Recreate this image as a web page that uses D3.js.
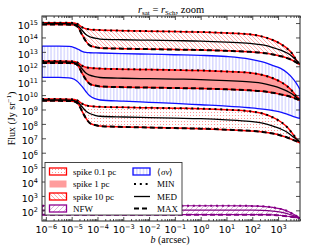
<!DOCTYPE html>
<html>
<head>
<meta charset="utf-8">
<script src="https://cdn.jsdelivr.net/npm/d3@7"></script>
<style>
body{margin:0;background:#fff;}
svg{display:block;}
</style>
</head>
<body>
<script>
(function(){

//log10 of impact parameter b (arcsec), shared by every curve
var logB = [-6.15, -5.5, -5.1, -4.9, -4.75, -4.6, -4.45, -4.3, -4.1, -3.9, -3, -2, -1, 0, 1, 1.9, 2.4, 2.8, 3.1, 3.35, 3.55, 3.7, 3.8, 3.85];

//log10 flux (Jy/sr)
var spike10Min = [15.03, 15.03, 15.02, 15.0, 14.9, 14.72, 14.6, 14.56, 14.53, 14.51, 14.47, 14.44, 14.41, 14.38, 14.31, 14.22, 14.06, 13.82, 13.55, 13.24, 12.87, 12.45, 12.2, 12.1];
var spike10Med = [14.97, 14.97, 14.96, 14.93, 14.8, 14.5, 14.2, 14.05, 13.95, 13.89, 13.84, 13.81, 13.78, 13.75, 13.68, 13.59, 13.48, 13.3, 13.12, 12.92, 12.68, 12.42, 12.25, 12.15];
var spike10Max = [14.9, 14.9, 14.89, 14.87, 14.7, 14.2, 13.75, 13.45, 13.33, 13.27, 13.22, 13.19, 13.16, 13.13, 13.07, 13.0, 12.93, 12.82, 12.7, 12.57, 12.42, 12.27, 12.15, 12.1];

var spike1Min = [12.36, 12.36, 12.35, 12.33, 12.23, 12.05, 11.93, 11.89, 11.86, 11.84, 11.8, 11.77, 11.74, 11.71, 11.64, 11.55, 11.4, 11.17, 10.92, 10.62, 10.28, 9.95, 9.78, 9.7];
var spike1Med = [12.3, 12.3, 12.29, 12.26, 12.13, 11.83, 11.53, 11.38, 11.28, 11.22, 11.17, 11.14, 11.11, 11.08, 11.01, 10.92, 10.82, 10.64, 10.47, 10.28, 10.07, 9.85, 9.72, 9.65];
var spike1Max = [12.23, 12.23, 12.22, 12.2, 12.03, 11.53, 11.08, 10.78, 10.66, 10.6, 10.55, 10.52, 10.49, 10.46, 10.4, 10.33, 10.26, 10.16, 10.05, 9.95, 9.84, 9.74, 9.66, 9.62];

var spike01Min = [9.72, 9.72, 9.71, 9.69, 9.59, 9.41, 9.29, 9.24, 9.21, 9.19, 9.15, 9.12, 9.09, 9.06, 8.99, 8.88, 8.72, 8.45, 8.15, 7.78, 7.35, 7.0, 6.8, 6.72];
var spike01Med = [9.66, 9.66, 9.65, 9.62, 9.49, 9.19, 8.89, 8.72, 8.6, 8.53, 8.48, 8.44, 8.4, 8.36, 8.28, 8.17, 8.05, 7.85, 7.65, 7.42, 7.15, 6.95, 6.8, 6.74];
var spike01Max = [9.6, 9.6, 9.59, 9.56, 9.39, 8.89, 8.4, 8.06, 7.92, 7.85, 7.79, 7.75, 7.71, 7.67, 7.6, 7.52, 7.44, 7.33, 7.2, 7.06, 6.92, 6.8, 6.72, 6.68];

var sigmaUp = [13.4, 13.4, 13.38, 13.3, 13.18, 13.04, 12.96, 12.94, 12.93, 12.92, 12.88, 12.84, 12.8, 12.76, 12.68, 12.5, 12.3, 12.05, 11.85, 11.55, 11.2, 10.85, 10.55, 10.4];
var sigmaLo = [11.23, 11.23, 11.2, 11.1, 10.9, 10.6, 10.25, 9.95, 9.75, 9.66, 9.58, 9.5, 9.42, 9.33, 9.24, 9.12, 9.03, 8.93, 8.82, 8.68, 8.54, 8.45, 8.4, 8.38];

var nfwMin = [2.32, 2.32, 2.32, 2.32, 2.32, 2.32, 2.32, 2.32, 2.32, 2.32, 2.32, 2.32, 2.32, 2.32, 2.32, 2.31, 2.28, 2.2, 2.1, 1.95, 1.78, 1.62, 1.52, 1.47];
var nfwMed = [2.02, 2.02, 2.02, 2.02, 2.02, 2.02, 2.02, 2.02, 2.02, 2.02, 2.02, 2.02, 2.02, 2.02, 2.02, 2.01, 2.0, 1.95, 1.88, 1.78, 1.66, 1.56, 1.5, 1.46];
var nfwMax = [1.7, 1.7, 1.7, 1.7, 1.7, 1.7, 1.7, 1.7, 1.7, 1.7, 1.7, 1.7, 1.7, 1.7, 1.7, 1.7, 1.7, 1.68, 1.64, 1.59, 1.54, 1.5, 1.47, 1.45];

var xTickExp = [-6, -5, -4, -3, -2, -1, 0, 1, 2, 3];
var yTickExp = [2, 3, 4, 5, 6, 7, 8, 9, 10, 11, 12, 13, 14, 15];

//frame
var width = 333, height = 251,
    left = 42, right = 300, top = 16, bottom = 221;

var svg = d3.select("body").append("svg")
    .attr("width", width)
    .attr("height", height);

var x = d3.scaleLog()
    .domain([Math.pow(10, -6.15), Math.pow(10, 3.85)])
    .range([left, right]);

var y = d3.scaleLog()
    .domain([Math.pow(10, 1.26), Math.pow(10, 15.49)])
    .range([bottom, top]);

//hatch patterns
var defs = svg.append("defs");
defs.append("clipPath").attr("id", "plotClip")
    .append("rect").attr("x", left).attr("y", top)
    .attr("width", right - left).attr("height", bottom - top);

var pBack = defs.append("pattern").attr("id", "hatchBack")
    .attr("patternUnits", "userSpaceOnUse").attr("width", 4).attr("height", 4);
pBack.append("path").attr("d", "M-1,-1L5,5M-1,3L1,5M3,-1L5,1")
    .attr("stroke", "#ff8a8a").attr("stroke-width", 0.7);

var pDots = defs.append("pattern").attr("id", "hatchDots")
    .attr("patternUnits", "userSpaceOnUse").attr("width", 3).attr("height", 3);
pDots.append("rect").attr("x", 1).attr("y", 1).attr("width", 0.9).attr("height", 0.9)
    .attr("fill", "#ff7a7a");

var pVert = defs.append("pattern").attr("id", "hatchVert")
    .attr("patternUnits", "userSpaceOnUse").attr("width", 3.3).attr("height", 10);
pVert.append("line").attr("x1", 1.6).attr("x2", 1.6).attr("y1", 0).attr("y2", 10)
    .attr("stroke", "#a8a8ff").attr("stroke-width", 0.7);

var pFwd = defs.append("pattern").attr("id", "hatchFwd")
    .attr("patternUnits", "userSpaceOnUse").attr("width", 5).attr("height", 5);
pFwd.append("path").attr("d", "M-1,6L6,-1M-1,1L1,-1M4,6L6,4")
    .attr("stroke", "#cf8fcf").attr("stroke-width", 0.7);

//helpers
function pts(ys){
    return logB.map(function(b, i){ return [Math.pow(10, b), Math.pow(10, ys[i])]; });
}
var line = d3.line()
    .x(function(d){ return x(d[0]); })
    .y(function(d){ return y(d[1]); })
    .curve(d3.curveMonotoneX);

function bandPath(upper, lower){
    var up = pts(upper), lo = pts(lower).reverse();
    var d1 = line(up);
    var d2 = line(lo);
    return d1 + "L" + d2.slice(1) + "Z";
}

var plot = svg.append("g").attr("clip-path", "url(#plotClip)");

var bands = [
    {up: sigmaUp, lo: sigmaLo, fill: "url(#hatchVert)", stroke: "#1010ff", sw: 1.3},
    {up: spike10Min, lo: spike10Max, fill: "url(#hatchBack)", stroke: "#ff0000", sw: 1.5},
    {up: spike1Min, lo: spike1Max, fill: "#ff9c9c", stroke: "#ff0000", sw: 1.5},
    {up: spike01Min, lo: spike01Max, fill: "url(#hatchDots)", stroke: "#ff0000", sw: 1.5},
    {up: nfwMin, lo: nfwMax, fill: "url(#hatchFwd)", stroke: "#900090", sw: 1.2}
];

plot.selectAll(".band")
    .data(bands)
    .enter()
    .append("path")
    .attr("class", "band")
    .attr("d", function(d){ return bandPath(d.up, d.lo); })
    .attr("fill", function(d){ return d.fill; })
    .attr("stroke", function(d){ return d.stroke; })
    .attr("stroke-width", function(d){ return d.sw; })
    .attr("stroke-linejoin", "round");

//MIN / MED / MAX curves
var styles = {
    min: {dash: "2,3.8", w: 2},
    med: {dash: null, w: 1.3},
    max: {dash: "5,3", w: 2}
};
var curves = [
    {v: spike10Min, s: "min", c: "#000"}, {v: spike10Med, s: "med", c: "#000"}, {v: spike10Max, s: "max", c: "#000"},
    {v: spike1Min, s: "min", c: "#000"}, {v: spike1Med, s: "med", c: "#000"}, {v: spike1Max, s: "max", c: "#000"},
    {v: spike01Min, s: "min", c: "#000"}, {v: spike01Med, s: "med", c: "#000"}, {v: spike01Max, s: "max", c: "#000"},
    {v: nfwMin, s: "min", c: "#800080"}, {v: nfwMed, s: "med", c: "#800080"}, {v: nfwMax, s: "max", c: "#800080"}
];

plot.selectAll(".curve")
    .data(curves)
    .enter()
    .append("path")
    .attr("class", "curve")
    .attr("d", function(d){ return line(pts(d.v)); })
    .attr("fill", "none")
    .attr("stroke", function(d){ return d.c; })
    .attr("stroke-width", function(d){ return styles[d.s].w; })
    .attr("stroke-dasharray", function(d){ return styles[d.s].dash; });

//axes
function expText(e){ return e < 0 ? "\u2212" + (-e) : String(e); }
var xTicks = xTickExp.map(function(e){ return Math.pow(10, e); });
var yTicks = yTickExp.map(function(e){ return Math.pow(10, e); });
var xMinor = [];
for (var e = -7; e <= 3; e++){
    for (var m = 2; m <= 9; m++){
        var v = m * Math.pow(10, e);
        if (v > x.domain()[0] && v < x.domain()[1]) xMinor.push(v);
    }
}

function styleAxis(g){
    g.select(".domain").remove();
    g.selectAll("line").attr("stroke", "#222").attr("stroke-width", 0.8);
}

var xAxis = svg.append("g")
    .attr("transform", "translate(0," + bottom + ")")
    .call(d3.axisBottom(x).tickValues(xTicks).tickSizeInner(-4).tickSizeOuter(0))
    .call(styleAxis);
xAxis.selectAll("text").each(function(d){
    var t = d3.select(this).text(null)
        .attr("y", 12.3).attr("dy", 0)
        .attr("font-family", "DejaVu Sans").attr("font-size", 9.5).attr("fill", "#000")
        .attr("text-anchor", "middle");
    t.append("tspan").text("10");
    t.append("tspan").attr("dy", -4).attr("font-size", 6.5).text(expText(Math.round(Math.log10(d))));
});

svg.append("g").attr("transform", "translate(0," + bottom + ")")
    .call(d3.axisBottom(x).tickValues(xMinor).tickSizeInner(-2).tickSizeOuter(0).tickFormat(""))
    .call(styleAxis);
svg.append("g").attr("transform", "translate(0," + top + ")")
    .call(d3.axisTop(x).tickValues(xTicks).tickSizeInner(-4).tickSizeOuter(0).tickFormat(""))
    .call(styleAxis);
svg.append("g").attr("transform", "translate(0," + top + ")")
    .call(d3.axisTop(x).tickValues(xMinor).tickSizeInner(-2).tickSizeOuter(0).tickFormat(""))
    .call(styleAxis);

var yAxis = svg.append("g")
    .attr("transform", "translate(" + left + ",0)")
    .call(d3.axisLeft(y).tickValues(yTicks).tickSizeInner(-4).tickSizeOuter(0).tickPadding(4))
    .call(styleAxis);
yAxis.selectAll("text").each(function(d){
    var t = d3.select(this).text(null)
        .attr("dy", 5.4)
        .attr("font-family", "DejaVu Sans").attr("font-size", 9.5).attr("fill", "#000")
        .attr("text-anchor", "end");
    t.append("tspan").text("10");
    t.append("tspan").attr("dy", -4).attr("font-size", 6.5).text(expText(Math.round(Math.log10(d))));
});
svg.append("g").attr("transform", "translate(" + right + ",0)")
    .call(d3.axisRight(y).tickValues(yTicks).tickSizeInner(-4).tickSizeOuter(0).tickFormat(""))
    .call(styleAxis);

svg.append("rect")
    .attr("x", left).attr("y", top)
    .attr("width", right - left).attr("height", bottom - top)
    .attr("fill", "none").attr("stroke", "#222").attr("stroke-width", 1);

//title and axis labels
var serif = "Liberation Serif";
var title = svg.append("text")
    .attr("x", 171).attr("y", 13)
    .attr("text-anchor", "middle")
    .attr("font-family", serif).attr("font-size", 10.5);
title.append("tspan").attr("font-style", "italic").text("r");
title.append("tspan").attr("font-size", 7).attr("dy", 2).text("sat");
title.append("tspan").attr("dy", -2).text(" = ");
title.append("tspan").attr("font-style", "italic").text("r");
title.append("tspan").attr("font-size", 7).attr("dy", 2).text("Sch");
title.append("tspan").attr("dy", -2).text(", zoom");

var xLabel = svg.append("text")
    .attr("x", 170).attr("y", 243)
    .attr("text-anchor", "middle")
    .attr("font-family", serif).attr("font-size", 10);
xLabel.append("tspan").attr("font-style", "italic").text("b");
xLabel.append("tspan").text(" (arcsec)");

var yLabel = svg.append("text")
    .attr("transform", "translate(15," + ((top + bottom) / 2) + ") rotate(-90)")
    .attr("text-anchor", "middle")
    .attr("font-family", serif).attr("font-size", 10);
yLabel.append("tspan").text("Flux (Jy sr");
yLabel.append("tspan").attr("font-size", 7).attr("dy", -4).text("\u22121");
yLabel.append("tspan").attr("dy", 4).text(")");

//legend
var legend = svg.append("g");
legend.append("rect")
    .attr("x", 45).attr("y", 162.5).attr("width", 137).attr("height", 52.5)
    .attr("fill", "#fff").attr("stroke", "#333").attr("stroke-width", 0.9);

var leftItems = [
    {label: "spike 0.1 pc", fill: "url(#hatchDots)", stroke: "#ff0000"},
    {label: "spike 1 pc", fill: "#ff9c9c", stroke: "none"},
    {label: "spike 10 pc", fill: "url(#hatchBack)", stroke: "#ff0000"},
    {label: "NFW", fill: "url(#hatchFwd)", stroke: "#900090"}
];
var rowY = [171.5, 184, 196.5, 208.5];

var li = legend.selectAll(".legLeft")
    .data(leftItems)
    .enter()
    .append("g")
    .attr("class", "legLeft");
li.append("rect")
    .attr("x", 49.5).attr("y", function(d, i){ return rowY[i] - 3.5; })
    .attr("width", 17).attr("height", 7)
    .attr("fill", function(d){ return d.fill; })
    .attr("stroke", function(d){ return d.stroke; })
    .attr("stroke-width", 1.3);
li.append("text")
    .attr("x", 73).attr("y", function(d, i){ return rowY[i] + 3; })
    .attr("font-family", serif).attr("font-size", 9)
    .text(function(d){ return d.label; });

//sigma v patch
legend.append("rect")
    .attr("x", 133).attr("y", rowY[0] - 3.5).attr("width", 17).attr("height", 7)
    .attr("fill", "url(#hatchVert)").attr("stroke", "#1010ff").attr("stroke-width", 1.3);
var sv = legend.append("text")
    .attr("x", 157).attr("y", rowY[0] + 3)
    .attr("font-family", serif).attr("font-size", 9);
sv.append("tspan").text("\u27E8");
sv.append("tspan").attr("font-style", "italic").text("\u03C3v");
sv.append("tspan").text("\u27E9");

var rightItems = [
    {label: "MIN", s: "min"},
    {label: "MED", s: "med"},
    {label: "MAX", s: "max"}
];
var ri = legend.selectAll(".legRight")
    .data(rightItems)
    .enter()
    .append("g")
    .attr("class", "legRight");
ri.append("line")
    .attr("x1", 134).attr("x2", 150)
    .attr("y1", function(d, i){ return rowY[i + 1]; })
    .attr("y2", function(d, i){ return rowY[i + 1]; })
    .attr("stroke", "#000")
    .attr("stroke-width", function(d){ return styles[d.s].w; })
    .attr("stroke-dasharray", function(d){ return styles[d.s].dash; });
ri.append("text")
    .attr("x", 157).attr("y", function(d, i){ return rowY[i + 1] + 3; })
    .attr("font-family", serif).attr("font-size", 9)
    .text(function(d){ return d.label; });

})();
</script>
</body>
</html>
